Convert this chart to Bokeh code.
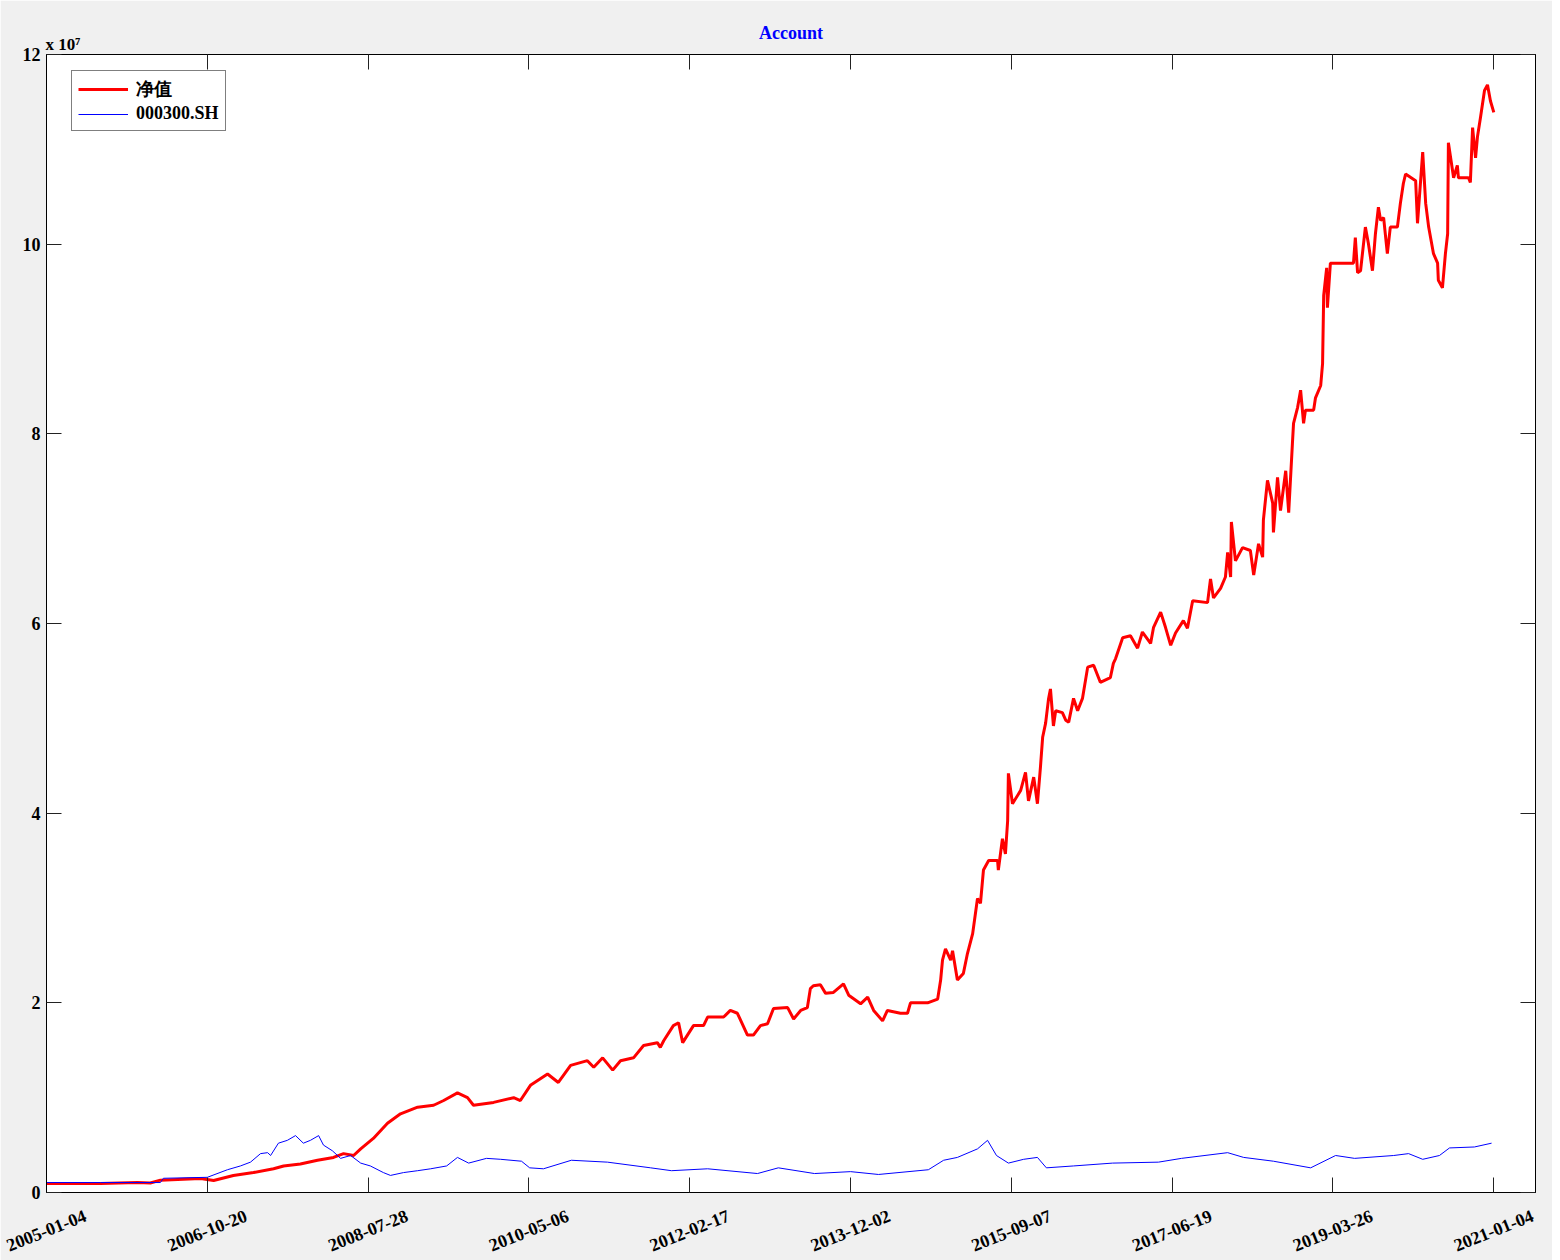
from bokeh.plotting import figure
from bokeh.models import (Range1d, FixedTicker, LinearAxis, Legend, LegendItem, Title)
from bokeh.embed import file_html
from bokeh.resources import INLINE

# ---------------- data (values in units of 1e7) ----------------
nav_idx = [0, 145, 244, 279, 306, 414, 449, 502, 556, 610, 637, 682, 728, 771, 798, 825, 844, 878,
           916, 951, 997, 1040, 1067, 1104, 1131, 1147, 1201, 1255, 1273, 1300, 1346, 1375, 1408,
           1453, 1470, 1494, 1521, 1542, 1577, 1604, 1641, 1649, 1658, 1684, 1698, 1709, 1738, 1765,
           1776, 1819, 1837, 1856, 1883, 1899, 1918, 1937, 1953, 1991, 2007, 2026, 2044, 2052, 2060,
           2079, 2093, 2114, 2141, 2155, 2187, 2206, 2222, 2246, 2259, 2294, 2313, 2321, 2367, 2394,
           2402, 2407, 2415, 2429, 2434, 2447, 2463, 2474, 2488, 2501, 2509, 2517, 2531, 2555, 2557,
           2568, 2576, 2582, 2584, 2595, 2617, 2630, 2638, 2652, 2662, 2670, 2676, 2684, 2692, 2697,
           2705, 2711, 2729, 2738, 2746, 2759, 2770, 2783, 2797, 2813, 2831, 2858, 2866, 2872, 2891,
           2912, 2931, 2944, 2966, 2974, 2993, 3006, 3020, 3033, 3054, 3065, 3079, 3119, 3127, 3135,
           3154, 3167, 3173, 3181, 3183, 3194, 3213, 3234, 3243, 3256, 3267, 3269, 3280, 3294, 3296,
           3307, 3315, 3329, 3337, 3347, 3350, 3361, 3369, 3377, 3382, 3404, 3409, 3423, 3428, 3431,
           3439, 3441, 3449, 3511, 3516, 3522, 3530, 3543, 3551, 3562, 3570, 3578, 3584, 3592, 3602,
           3610, 3629, 3637, 3645, 3651, 3678, 3683, 3697, 3705, 3713, 3726, 3737, 3739, 3750, 3758,
           3764, 3766, 3777, 3780, 3790, 3793, 3820, 3825, 3831, 3839, 3844, 3852, 3863, 3871, 3879,
           3888]
nav_val = [0.095, 0.095, 0.105, 0.10, 0.13, 0.147, 0.126, 0.18, 0.21, 0.25, 0.28, 0.30, 0.34, 0.37,
           0.41, 0.39, 0.46, 0.57, 0.73, 0.83, 0.90, 0.92, 0.97, 1.05, 1.00, 0.92, 0.95, 1.00, 0.97,
           1.13, 1.25, 1.16, 1.34, 1.39, 1.32, 1.42, 1.29, 1.39, 1.42, 1.55, 1.58, 1.53, 1.60, 1.76,
           1.79, 1.58, 1.76, 1.76, 1.85, 1.85, 1.92, 1.89, 1.66, 1.66, 1.76, 1.78, 1.94, 1.95, 1.83,
           1.92, 1.95, 2.15, 2.18, 2.19, 2.10, 2.11, 2.20, 2.08, 1.99, 2.06, 1.92, 1.81, 1.92, 1.89,
           1.89, 2.00, 2.00, 2.04, 2.24, 2.45, 2.57, 2.45, 2.55, 2.24, 2.31, 2.52, 2.73, 3.10, 3.05,
           3.40, 3.50, 3.50, 3.40, 3.73, 3.57, 3.92, 4.42, 4.10, 4.24, 4.43, 4.13, 4.38, 4.10, 4.48,
           4.80, 4.95, 5.21, 5.31, 4.92, 5.08, 5.06, 4.98, 4.96, 5.21, 5.08, 5.21, 5.54, 5.56, 5.38,
           5.43, 5.58, 5.63, 5.85, 5.87, 5.74, 5.91, 5.79, 5.96, 6.12, 5.96, 5.77, 5.90, 6.03, 5.95,
           6.24, 6.22, 6.47, 6.27, 6.37, 6.49, 6.75, 6.49, 7.07, 6.66, 6.80, 6.77, 6.51, 6.84, 6.70,
           7.09, 7.51, 7.27, 6.96, 7.54, 7.19, 7.61, 7.17, 7.90, 8.11, 8.28, 8.46, 8.11, 8.25, 8.25,
           8.38, 8.51, 8.74, 9.46, 9.75, 9.33, 9.80, 9.80, 10.07, 9.70, 9.72, 10.18, 10.01, 9.72,
           10.11, 10.39, 10.25, 10.28, 9.90, 10.18, 10.18, 10.43, 10.64, 10.74, 10.67, 10.22, 10.97,
           10.43, 10.18, 9.90, 9.80, 9.62, 9.54, 9.90, 10.11, 11.07, 10.78, 10.70, 10.83, 10.70,
           10.70, 10.65, 11.23, 10.91, 11.13, 11.33, 11.62, 11.68, 11.51, 11.39]

idx_idx = [0, 145, 306, 314, 432, 486, 521, 548, 575, 594, 602, 623, 647, 669, 690, 709, 731, 744,
           768, 790, 817, 844, 870, 905, 924, 959, 997, 1032, 1075, 1104, 1134, 1182, 1220, 1276,
           1298, 1335, 1410, 1507, 1623, 1679, 1776, 1910, 1966, 2063, 2160, 2235, 2369, 2410, 2447,
           2501, 2528, 2552, 2584, 2625, 2662, 2686, 2759, 2864, 2987, 3049, 3173, 3216, 3296, 3396,
           3463, 3514, 3619, 3659, 3697, 3742, 3769, 3836, 3882]
idx_val = [0.105, 0.105, 0.105, 0.15, 0.16, 0.24, 0.28, 0.32, 0.41, 0.42, 0.39, 0.52, 0.55, 0.60,
           0.52, 0.55, 0.60, 0.50, 0.44, 0.36, 0.39, 0.31, 0.28, 0.21, 0.18, 0.21, 0.23, 0.25, 0.28,
           0.37, 0.31, 0.36, 0.35, 0.33, 0.26, 0.25, 0.34, 0.32, 0.26, 0.23, 0.25, 0.20, 0.26, 0.20,
           0.22, 0.19, 0.24, 0.34, 0.37, 0.46, 0.55, 0.39, 0.31, 0.35, 0.37, 0.26, 0.28, 0.31, 0.32,
           0.36, 0.42, 0.37, 0.33, 0.26, 0.39, 0.36, 0.39, 0.41, 0.35, 0.39, 0.47, 0.48, 0.52]

x_tick_idx = [0, 432, 864, 1296, 1728, 2160, 2592, 3024, 3456, 3888]
x_tick_labels = ["2005-01-04", "2006-10-20", "2008-07-28", "2010-05-06", "2012-02-17",
                 "2013-12-02", "2015-09-07", "2017-06-19", "2019-03-26", "2021-01-04"]
y_ticks = [0, 2, 4, 6, 8, 10, 12]
series_names = ["净值", "000300.SH"]
title_text = "Account"
exponent_text = "x 10\u2077"

FONT = "Liberation Serif"
LABEL_SHIFT = 104  # rotated labels are anchored at their end; shift so they centre on the tick

p = figure(width=1552, height=1260, output_backend="svg", toolbar_location=None,
           x_range=Range1d(0, 4000), y_range=Range1d(0, 12),
           min_border_left=46, min_border_right=17, min_border_top=54, min_border_bottom=66)
p.border_fill_color = "#f0f0f0"
p.background_fill_color = "white"
p.outline_line_color = "black"
p.outline_line_width = 1
p.xgrid.visible = False
p.ygrid.visible = False

r1 = p.line(nav_idx, nav_val, line_color="#ff0000", line_width=3)
r2 = p.line(idx_idx, idx_val, line_color="#0000ff", line_width=1)


def style_axis(ax, ticks, labels, size="18px"):
    ax.ticker = FixedTicker(ticks=ticks)
    ax.major_tick_in = 15
    ax.major_tick_out = 0
    ax.minor_tick_line_color = None
    ax.axis_line_color = "black"
    ax.major_tick_line_color = "#222222"
    ax.major_label_text_font = FONT
    ax.major_label_text_font_style = "bold"
    ax.major_label_text_color = "black"
    ax.major_label_text_font_size = size
    if labels is None:
        ax.major_label_overrides = {t: "" for t in ticks}
        ax.major_label_standoff = 0
    else:
        ax.major_label_overrides = {t: l for t, l in zip(ticks, labels)}
        ax.major_label_standoff = 6


style_axis(p.yaxis[0], y_ticks, [str(v) for v in y_ticks])
style_axis(p.xaxis[0], x_tick_idx, None)

# date labels: separate label-only axis below the tick axis
label_pos = [t + LABEL_SHIFT for t in x_tick_idx]
ax_lab = LinearAxis()
style_axis(ax_lab, label_pos, x_tick_labels, size="18px")
ax_lab.major_label_orientation = 0.38
ax_lab.major_label_standoff = 22
ax_lab.axis_line_color = None
ax_lab.major_tick_line_color = None
ax_lab.major_tick_in = 0
p.add_layout(ax_lab, "below")

ax_r = LinearAxis()
style_axis(ax_r, y_ticks, None)
p.add_layout(ax_r, "right")
ax_t = LinearAxis()
style_axis(ax_t, x_tick_idx, None)
p.add_layout(ax_t, "above")

# exponent (nearest the frame) and title (outermost, pulled down)
p.add_layout(Title(text=exponent_text, align="left", standoff=2, offset=-1,
                   text_font=FONT, text_font_style="bold", text_font_size="17px",
                   text_color="black"), "above")
p.add_layout(Title(text=title_text, align="center", standoff=-22,
                   text_font=FONT, text_font_style="bold", text_font_size="18px",
                   text_color="#0000ff"), "above")

legend = Legend(items=[LegendItem(label=series_names[0], renderers=[r1]),
                       LegendItem(label=series_names[1], renderers=[r2])],
                location=(25, 1061))
legend.border_line_color = "black"
legend.border_line_width = 1
legend.background_fill_color = "white"
legend.background_fill_alpha = 1
legend.label_text_font = FONT
legend.label_text_font_style = "bold"
legend.label_text_font_size = "18px"
legend.label_text_color = "black"
legend.glyph_width = 50
legend.glyph_height = 18
legend.label_height = 18
legend.label_standoff = 8
legend.padding = 6
legend.spacing = 2
legend.margin = 0
p.add_layout(legend)

open("out.html", "w").write(file_html(p, INLINE))
